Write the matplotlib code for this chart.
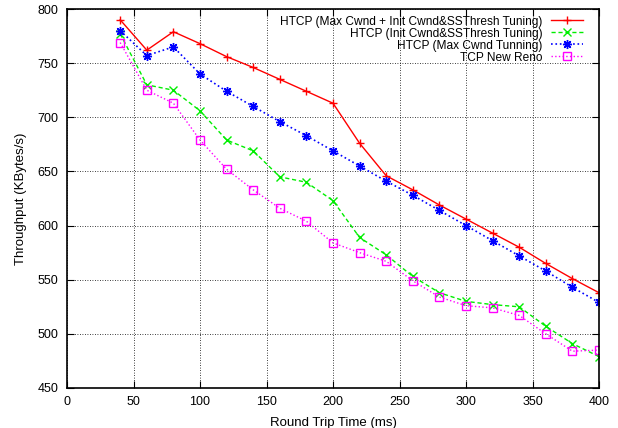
import numpy as np
import matplotlib
matplotlib.use("Agg")
import matplotlib.pyplot as plt

plt.rcParams["font.family"] = ["Liberation Sans", "DejaVu Sans"]
plt.rcParams.update({'font.size': 9})
plt.rcParams.update({'axes.labelsize': 9.5})
plt.rcParams.update({'legend.fontsize': 8.6})

#%% data
rtt = [40, 60, 80, 100, 120, 140, 160, 180, 200, 220, 240, 260, 280, 300,
       320, 340, 360, 380, 400]

htcp_all = [790, 762, 779, 768, 756, 746, 735, 724, 713, 676, 646, 633, 619,
            606, 593, 580, 565, 551, 538]
htcp_init = [777, 730, 725, 706, 679, 669, 645, 640, 623, 589, 573, 553, 538,
             530, 527, 525, 507, 491, 479]
htcp_max = [780, 757, 765, 740, 724, 710, 696, 683, 669, 655, 641, 628, 614,
            600, 586, 572, 558, 543, 529]
newreno = [769, 725, 713, 679, 652, 633, 616, 604, 584, 575, 567, 549, 534,
           526, 524, 517, 500, 484, 485]

labels = ['HTCP (Max Cwnd + Init Cwnd&SSThresh Tuning)',
          'HTCP (Init Cwnd&SSThresh Tuning)',
          'HTCP (Max Cwnd Tunning)',
          'TCP New Reno']

#%% plot
fig = plt.figure(figsize=(6.18, 4.28), dpi=100)
ax = fig.add_axes([67/618, 1-388/428, (599-67)/618, (388-9)/428])

ax.plot(rtt, htcp_all, '-', color='red', marker='+', markersize=6,
        linewidth=1, label=labels[0])
ax.plot(rtt, htcp_init, '--', color='#00ee00', marker='x', markersize=5.5,
        linewidth=1, dashes=(3, 2), label=labels[1])
ax.plot(rtt, htcp_max, ':', color='blue', marker=(8, 2, 0), markersize=6.5,
        linewidth=1.2, label=labels[2])
ax.plot(rtt, newreno, ':', color='magenta', marker='s', markersize=6,
        fillstyle='none', linewidth=1, label=labels[3])

ax.set_xlim(0, 400)
ax.set_ylim(450, 800)
ax.set_xticks(np.arange(0, 401, 50))
ax.set_yticks(np.arange(450, 801, 50))
ax.tick_params(direction='in', top=True, right=True, length=5, pad=6)
ax.grid(True, linestyle=(0, (1, 2)), color='black', linewidth=0.6)
for s in ax.spines.values():
    s.set_linewidth(1.2)

ax.set_xlabel('Round Trip Time (ms)', labelpad=6)
ax.set_ylabel('Throughput (KBytes/s)', labelpad=8)

ax.legend(loc='upper right', bbox_to_anchor=(0.983, 1.0), frameon=False,
          markerfirst=False, handlelength=2.7, labelspacing=0.0,
          borderaxespad=0.1, borderpad=0.45, handletextpad=0.7)

fig.savefig('out.png', dpi=100)
